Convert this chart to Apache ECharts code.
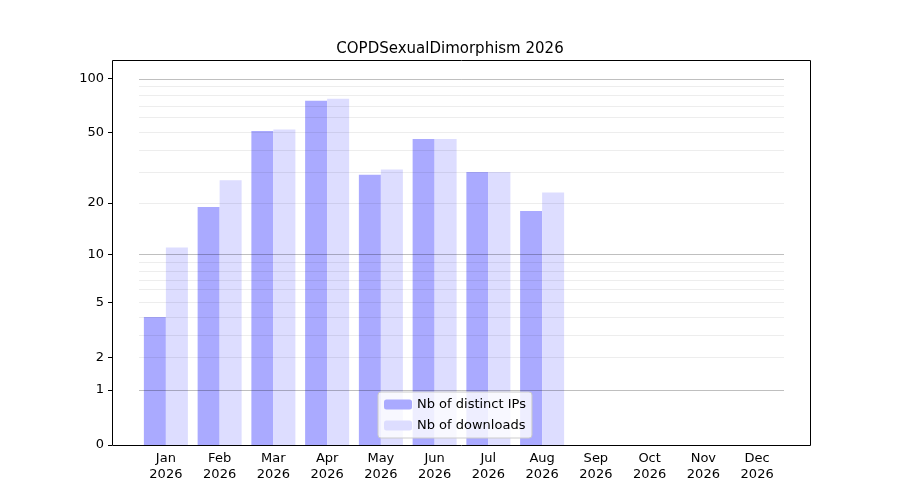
<!DOCTYPE html>
<html>
<head>
<meta charset="utf-8">
<script src="https://cdn.jsdelivr.net/npm/echarts@6/dist/echarts.min.js"></script>
<style>html,body{margin:0;padding:0;background:#fff}#main{width:900px;height:500px}</style>
</head>
<body>
<div id="main"></div>
<script>
const months = ['Jan', 'Feb', 'Mar', 'Apr', 'May', 'Jun', 'Jul', 'Aug', 'Sep', 'Oct', 'Nov', 'Dec'];
const year = '2026';
const distinctIPs = [4, 19, 51, 75, 29, 46, 30, 18, null, null, null, null];
const downloads = [11, 27, 52, 77, 31, 46, 30, 23, null, null, null, null];
const tickValues = [0, 1, 2, 5, 10, 20, 50, 100];
const majorGrid = [1, 10, 100];
const minorGrid = [2, 3, 4, 5, 6, 7, 8, 9, 20, 30, 40, 50, 60, 70, 80, 90];

// axe "symlog" : y = log10(1 + v)
const f = v => (v == null ? null : Math.log10(1 + v));
const yMax = 2.104;

const chart = echarts.init(document.getElementById('main'));

function gridLines(vals, color) {
  return vals.map(v => ({ yAxis: f(v), lineStyle: { color: color, width: 1, type: 'solid' } }));
}

chart.setOption({
  animation: false,
  title: {
    text: 'COPDSexualDimorphism 2026',
    left: 'center',
    top: 37,
    textStyle: { fontFamily: 'DejaVu Sans', fontSize: 15, fontWeight: 'normal', color: '#000' }
  },
  // cadre du graphe (marges matplotlib autour des catégories)
  graphic: [{
    type: 'rect', z: 10, silent: true,
    shape: { x: 112.5, y: 60.5, width: 698, height: 385 },
    style: { fill: 'none', stroke: '#000', lineWidth: 1 }
  }],
  grid: { left: 139, right: 116, top: 60, bottom: 55 },
  legend: {
    orient: 'vertical',
    left: 378, top: 392,
    itemWidth: 28, itemHeight: 10, itemGap: 8,
    padding: [6, 6, 6, 6],
    backgroundColor: 'rgba(255,255,255,0.8)',
    borderColor: '#ccc', borderWidth: 1, borderRadius: 3,
    textStyle: { fontFamily: 'DejaVu Sans', fontSize: 13, color: '#000' },
    data: ['Nb of distinct IPs', 'Nb of downloads']
  },
  xAxis: {
    type: 'category',
    data: months.map(m => m + '\n' + year),
    axisLine: { show: false },
    axisTick: { alignWithLabel: true, length: 4, lineStyle: { color: '#000' } },
    axisLabel: { fontFamily: 'DejaVu Sans', fontSize: 13, color: '#000', lineHeight: 16, margin: 6 }
  },
  yAxis: {
    type: 'value',
    min: 0, max: yMax,
    offset: 27,
    axisLine: { show: false },
    splitLine: { show: false },
    axisTick: { show: true, length: 4, lineStyle: { color: '#000' }, customValues: tickValues.map(f) },
    axisLabel: {
      fontFamily: 'DejaVu Sans', fontSize: 13, color: '#000',
      customValues: tickValues.map(f),
      formatter: v => String(Math.round(Math.pow(10, v) - 1))
    }
  },
  series: [
    {
      name: 'Nb of distinct IPs',
      type: 'bar',
      data: distinctIPs.map(f),
      barWidth: 22, barGap: '0%',
      itemStyle: { color: '#aaaaff' },
      markLine: {
        silent: true, symbol: 'none', label: { show: false }, animation: false,
        data: gridLines(minorGrid, 'rgba(0,0,0,0.07)').concat(gridLines(majorGrid, 'rgba(0,0,0,0.25)'))
      },
      z: 2
    },
    {
      name: 'Nb of downloads',
      type: 'bar',
      data: downloads.map(f),
      barWidth: 22,
      itemStyle: { color: '#ddddff' },
      z: 2
    }
  ]
});
</script>
</body>
</html>
